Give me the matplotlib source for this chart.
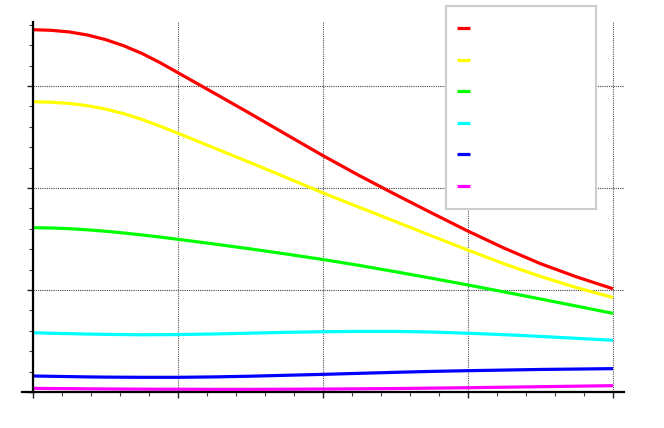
import matplotlib
matplotlib.use("Agg")
import matplotlib.pyplot as plt
from matplotlib.legend_handler import HandlerLine2D
import numpy as np

x = [0, 0.125, 0.25, 0.375, 0.5, 0.625, 0.75, 0.875, 1.0,
     1.25, 1.5, 1.75, 2.0, 2.25, 2.5, 2.75, 3.0, 3.25, 3.5, 3.75, 4.0]
red = [3.552, 3.546, 3.530, 3.500, 3.455, 3.395, 3.320, 3.230, 3.130,
       2.930, 2.728, 2.522, 2.317, 2.122, 1.936, 1.755, 1.577, 1.410, 1.258, 1.128, 1.012]
yellow = [2.846, 2.841, 2.829, 2.807, 2.774, 2.729, 2.673, 2.607, 2.537,
          2.392, 2.248, 2.101, 1.952, 1.811, 1.671, 1.530, 1.391, 1.256, 1.133, 1.023, 0.926]
green = [1.611, 1.608, 1.601, 1.590, 1.576, 1.559, 1.540, 1.519, 1.497,
         1.451, 1.403, 1.352, 1.299, 1.241, 1.179, 1.115, 1.049, 0.981, 0.912, 0.842, 0.771]
cyan = [0.581, 0.576, 0.572, 0.568, 0.565, 0.563, 0.561, 0.562, 0.563,
        0.569, 0.577, 0.585, 0.591, 0.594, 0.594, 0.588, 0.576, 0.562, 0.545, 0.526, 0.507]
blue = [0.157, 0.154, 0.151, 0.148, 0.146, 0.145, 0.144, 0.144, 0.144,
        0.148, 0.155, 0.164, 0.173, 0.183, 0.193, 0.202, 0.209, 0.215, 0.221, 0.225, 0.229]
magenta = [0.036, 0.034, 0.033, 0.031, 0.030, 0.029, 0.028, 0.027, 0.027,
           0.026, 0.026, 0.027, 0.029, 0.031, 0.034, 0.038, 0.042, 0.047, 0.052, 0.057, 0.062]

series = [red, yellow, green, cyan, blue, magenta]
colors = ["#ff0000", "#ffff00", "#00ff00", "#00ffff", "#0000ff", "#ff00ff"]
labels = ["", "", "", "", "", ""]

fig = plt.figure(figsize=(6.64, 4.28), dpi=100)
ax = fig.add_axes([22/664, 36/428, (624-22)/664, (406-36)/428])

handles = []
for ys, c in zip(series, colors):
    h, = ax.plot(x, ys, color=c, lw=2.3, solid_capstyle="butt",
                 solid_joinstyle="round", zorder=3)
    handles.append(h)

xmin, xmax = -11/145, 591/145
ax.set_xlim(xmin, xmax)
ax.set_ylim(0, 370/102)

ax.set_xticks([0, 1, 2, 3, 4])
ax.set_xticks(np.arange(0, 4.001, 0.2), minor=True)
ax.set_yticks([0, 1, 2, 3])
ax.set_yticks(np.arange(0, 3.61, 0.2), minor=True)

ax.spines["top"].set_visible(False)
ax.spines["right"].set_visible(False)
ax.spines["left"].set_position(("data", 0))
for s in ("left", "bottom"):
    ax.spines[s].set_linewidth(1.6)
    ax.spines[s].set_color("black")
    ax.spines[s].set_zorder(4)

ax.tick_params(which="major", direction="out", length=4.5, width=1.0, color="#222222",
               labelleft=False, labelbottom=False)
ax.tick_params(which="minor", direction="out", length=2.6, width=0.8, color="#444444")

ax.grid(axis="x", which="major", linestyle=(0, (1, 1)), color="#555555", linewidth=0.8, zorder=1)
ax.hlines([t for t in ax.get_yticks() if t > 0], 0, xmax, linestyles=(0, (1, 1)),
          colors="#444444", linewidth=0.8, zorder=1)

leg = fig.legend(handles, labels, loc="upper left",
                 bbox_to_anchor=(445.7/664, 1 - 208/428, 150/664, 202/428),
                 mode="expand", borderaxespad=0, fontsize=10, labelspacing=1.26,
                 borderpad=1.15, handlelength=0.58, handletextpad=0.5,
                 handler_map={matplotlib.lines.Line2D: HandlerLine2D(xpad=-0.36)},
                 fancybox=False, framealpha=1, edgecolor="#cccccc")
leg.get_frame().set_linewidth(1.5)
for lh in leg.get_lines():
    lh.set_linewidth(2.3)

fig.savefig("out.png", dpi=100)
